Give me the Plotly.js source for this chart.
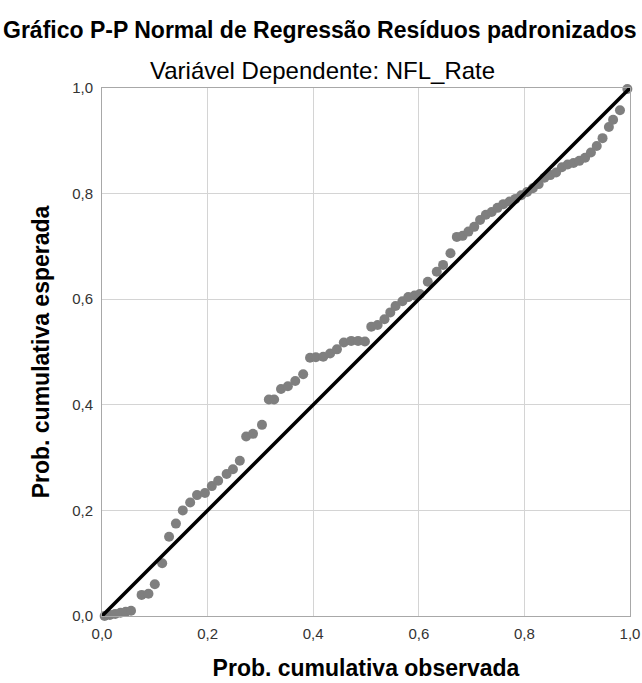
<!DOCTYPE html>
<html>
<head>
<meta charset="utf-8">
<script src="https://cdn.plot.ly/plotly-3.0.1.min.js"></script>
<style>html,body{margin:0;padding:0;background:#fff;}#chart{width:642px;height:683px;}</style>
</head>
<body>
<div id="chart"></div>
<script>
// Observed cumulative probability (x) and expected cumulative probability (y)
const observed = [0.005,0.015,0.025,0.035,0.045,0.055,0.075,0.088,0.10,0.114,0.127,0.14,0.153,0.167,0.18,0.195,0.208,0.22,0.236,0.248,0.261,0.273,0.286,0.303,0.316,0.326,0.339,0.352,0.366,0.381,0.394,0.405,0.419,0.432,0.445,0.458,0.472,0.485,0.498,0.51,0.522,0.535,0.546,0.556,0.569,0.58,0.592,0.602,0.617,0.634,0.646,0.66,0.672,0.683,0.694,0.705,0.716,0.727,0.738,0.749,0.76,0.772,0.783,0.794,0.805,0.816,0.827,0.838,0.849,0.86,0.871,0.882,0.893,0.904,0.915,0.926,0.937,0.948,0.96,0.968,0.981,0.995];
const expected = [0.0,0.002,0.004,0.006,0.008,0.01,0.04,0.042,0.06,0.10,0.15,0.175,0.20,0.215,0.229,0.233,0.246,0.256,0.269,0.278,0.294,0.34,0.345,0.362,0.41,0.41,0.43,0.435,0.445,0.458,0.489,0.49,0.491,0.497,0.505,0.518,0.521,0.521,0.52,0.548,0.551,0.562,0.575,0.587,0.596,0.604,0.607,0.61,0.633,0.652,0.665,0.687,0.718,0.72,0.728,0.737,0.75,0.76,0.765,0.773,0.78,0.785,0.79,0.797,0.803,0.81,0.818,0.83,0.835,0.84,0.85,0.855,0.858,0.862,0.868,0.878,0.89,0.905,0.926,0.94,0.958,0.998];
const refLine = [0, 1];
const tickVals = [0, 0.2, 0.4, 0.6, 0.8, 1.0];
const tickText = ['0,0', '0,2', '0,4', '0,6', '0,8', '1,0'];

const FONT = 'Arial, "Liberation Sans", sans-serif';

const traces = [
  {
    x: observed, y: expected, type: 'scatter', mode: 'markers',
    marker: {color: '#7f7f7f', size: 10, line: {width: 0}},
    hoverinfo: 'skip', cliponaxis: false
  },
  {
    x: refLine, y: refLine, type: 'scatter', mode: 'lines',
    line: {color: '#000000', width: 3.5},
    hoverinfo: 'skip'
  }
];

const axisCommon = {
  range: [0, 1], tickvals: tickVals, ticktext: tickText,
  showgrid: true, gridcolor: '#d4d4d4', gridwidth: 1,
  showline: true, linecolor: '#a8a8a8', linewidth: 1, mirror: true,
  ticks: '', zeroline: false, fixedrange: true,
  tickfont: {family: FONT, size: 15, color: '#333333'}
};

const layout = {
  width: 642, height: 683,
  margin: {l: 102, r: 12, t: 88, b: 67, pad: 0},
  paper_bgcolor: '#ffffff', plot_bgcolor: '#ffffff',
  showlegend: false,
  font: {family: FONT},
  xaxis: Object.assign({}, axisCommon, {
    ticklabelstandoff: 4,
    title: {text: '<b>Prob. cumulativa observada</b>', font: {family: FONT, size: 23, color: '#000'}, standoff: 18}
  }),
  yaxis: Object.assign({}, axisCommon, {
    ticklabelstandoff: 5,
    title: {text: '<b>Prob. cumulativa esperada</b>', font: {family: FONT, size: 23, color: '#000'}, standoff: 16}
  }),
  annotations: [
    {text: '<b>Gráfico P-P Normal de Regressão Resíduos padronizados</b>', xref: 'paper', yref: 'paper',
     x: 0.413, y: 1.11, xanchor: 'center', yanchor: 'middle', showarrow: false,
     font: {family: FONT, size: 23, color: '#000'}},
    {text: 'Variável Dependente: NFL_Rate', xref: 'paper', yref: 'paper',
     x: 0.418, y: 1.034, xanchor: 'center', yanchor: 'middle', showarrow: false,
     font: {family: FONT, size: 24, color: '#000'}}
  ]
};

Plotly.newPlot('chart', traces, layout, {displayModeBar: false, staticPlot: true});
</script>
</body>
</html>
